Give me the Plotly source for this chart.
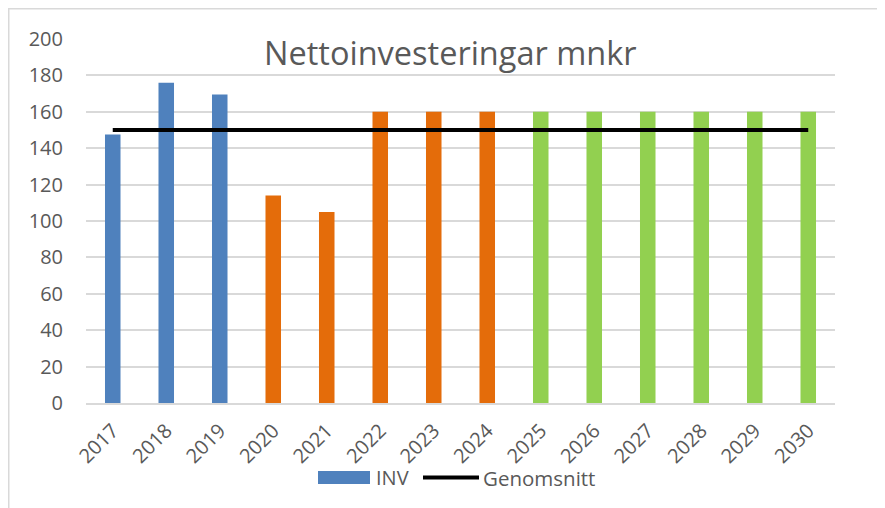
import plotly.graph_objects as go

years = ["2017", "2018", "2019", "2020", "2021", "2022", "2023", "2024",
         "2025", "2026", "2027", "2028", "2029", "2030"]
inv = [147.5, 176, 169.5, 114, 105, 160, 160, 160, 160, 160, 160, 160, 160, 160]
genomsnitt = [150] * len(years)
y_ticks = [0, 20, 40, 60, 80, 100, 120, 140, 160, 180, 200]

BLUE = "#4F81BD"
ORANGE = "#E46C0A"
GREEN = "#92D050"
bar_colors = [BLUE] * 3 + [ORANGE] * 5 + [GREEN] * 6

OFF = 8  # page offset of the figure in the browser window
W, H = 885 - OFF, 508 - OFF
PL, PR, PT, PB = 86, 835, 39, 403  # plot area in screen pixels
L, R, T, B = PL - OFF, (W + OFF) - PR, PT - OFF, (H + OFF) - PB
FONT = "Open Sans"
GREY = "#595959"

def px_x(px):
    return (px - PL) / (PR - PL)

def px_y(py):
    return (PB - py) / (PB - PT)

fig = go.Figure()
fig.add_trace(go.Bar(x=years, y=inv, name="INV", marker=dict(color=bar_colors, line=dict(width=0)),
                     width=0.29, showlegend=False))
fig.add_trace(go.Scatter(x=years, y=genomsnitt, name="Genomsnitt", mode="lines",
                         line=dict(color="black", width=4), showlegend=False))

shapes = [
    # chart border (top and left)
    dict(type="line", xref="paper", yref="paper", x0=px_x(8), x1=px_x(885), y0=px_y(8.5), y1=px_y(8.5),
         line=dict(color="#d9d9d9", width=2)),
    dict(type="line", xref="paper", yref="paper", x0=px_x(8.5), x1=px_x(8.5), y0=px_y(8), y1=px_y(508),
         line=dict(color="#d9d9d9", width=2)),
    # legend symbols
    dict(type="rect", xref="paper", yref="paper", x0=px_x(318), x1=px_x(370), y0=px_y(471), y1=px_y(484),
         fillcolor=BLUE, line=dict(width=0)),
    dict(type="line", xref="paper", yref="paper", x0=px_x(423), x1=px_x(479), y0=px_y(477.5), y1=px_y(477.5),
         line=dict(color="black", width=4)),
]

annotations = [
    dict(text="Nettoinvesteringar mnkr", xref="paper", yref="paper", x=px_x(450), y=px_y(53),
         xanchor="center", yanchor="middle", showarrow=False, font=dict(family=FONT, size=32.5, color=GREY)),
    dict(text="INV", xref="paper", yref="paper", x=px_x(374), y=px_y(477.5),
         xanchor="left", yanchor="middle", showarrow=False, font=dict(family=FONT, size=20, color=GREY)),
    dict(text="Genomsnitt", xref="paper", yref="paper", x=px_x(481), y=px_y(477.5),
         xanchor="left", yanchor="middle", showarrow=False, font=dict(family=FONT, size=20.5, color=GREY)),
]

fig.update_layout(
    width=W, height=H,
    margin=dict(l=L, r=R, t=T, b=B, autoexpand=False),
    paper_bgcolor="white", plot_bgcolor="white",
    font=dict(family=FONT, color=GREY, size=20),
    showlegend=False,
    shapes=shapes,
    annotations=annotations,
    xaxis=dict(type="category", showgrid=False, showline=True, linecolor="#d9d9d9", linewidth=2,
               ticks="", tickangle=-45, ticklabelstandoff=6, tickfont=dict(size=20, color=GREY),
               fixedrange=True),
    yaxis=dict(range=[0, 200], tickvals=y_ticks, showgrid=True, gridcolor="#d9d9d9", gridwidth=1.5,
               zeroline=False, showline=False, ticks="", ticklabelstandoff=22,
               tickfont=dict(size=20, color=GREY), fixedrange=True),
)

fig.write_html("out.html")
